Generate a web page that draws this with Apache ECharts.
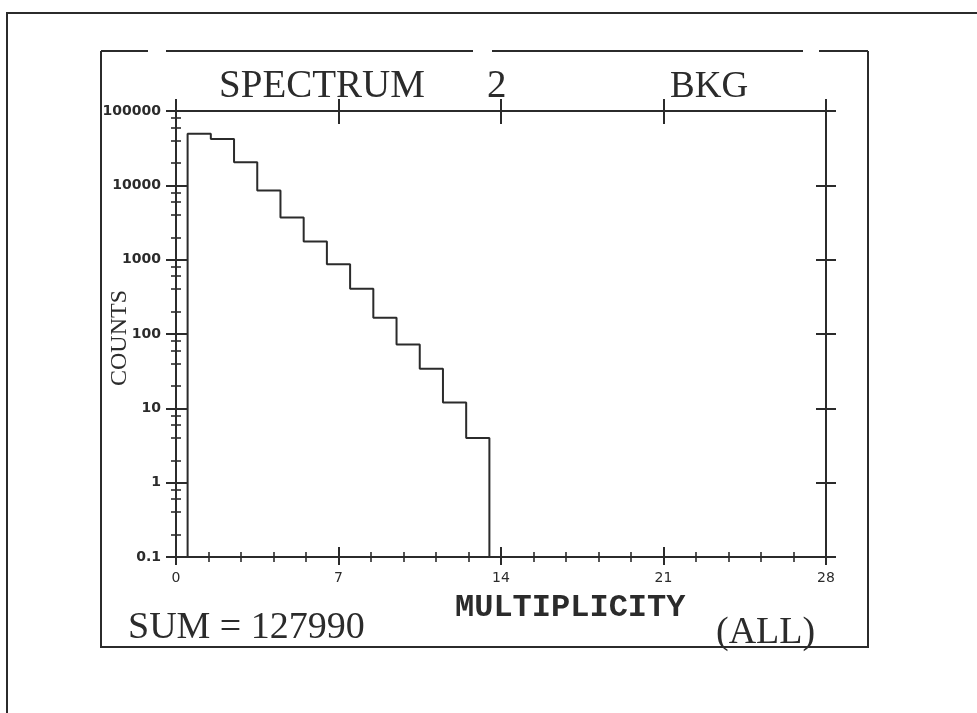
<!DOCTYPE html>
<html>
<head>
<meta charset="utf-8">
<script src="https://cdn.jsdelivr.net/npm/echarts@6/dist/echarts.min.js"></script>
<style>
  html, body { margin: 0; padding: 0; background: #ffffff; }
  #chart { width: 977px; height: 713px; }
</style>
</head>
<body>
<div id="chart"></div>
<script>
// Multiplicity spectrum: counts per multiplicity bin (bin width 1)
const multiplicity = [1, 2, 3, 4, 5, 6, 7, 8, 9, 10, 11, 12, 13];
const counts = [49500, 42000, 20500, 8500, 3700, 1750, 870, 405, 166, 72, 34, 12, 4];

const xTicks = [0, 7, 14, 21, 28];
const yTickLabels = ['0.1', '1', '10', '100', '1000', '10000', '100000'];
const yMinorTicks = [0.2, 0.4, 0.6, 0.8, 2, 4, 6, 8, 20, 40, 60, 80, 200, 400, 600, 800,
  2000, 4000, 6000, 8000, 20000, 40000, 60000, 80000];

const title = ['SPECTRUM', '2', 'BKG'];
const sumText = 'SUM = 127990';

const INK = '#2b2b2b';
const yMin = Number(yTickLabels[0]);
const yMax = Number(yTickLabels[yTickLabels.length - 1]);

// Histogram outline: edges half a bin either side of each multiplicity
const outline = [[multiplicity[0] - 0.5, yMin]];
multiplicity.forEach((m, i) => {
  outline.push([m - 0.5, counts[i]]);
  outline.push([m + 0.5, counts[i]]);
});
outline.push([multiplicity[multiplicity.length - 1] + 0.5, yMin]);

const lineStyle = { color: INK, width: 2 };

function xAxisDef(position, inside, len, withLine, withLabel, withMinor) {
  return {
    type: 'value', position: position, min: xTicks[0], max: xTicks[xTicks.length - 1],
    interval: xTicks[1] - xTicks[0],
    axisLine: { show: withLine, lineStyle: lineStyle },
    axisTick: { show: true, inside: inside, length: len, lineStyle: lineStyle },
    minorTick: { show: withMinor, splitNumber: 5, length: 5, lineStyle: { color: INK, width: 1.6 } },
    axisLabel: {
      show: withLabel, margin: 14, color: INK,
      fontFamily: 'DejaVu Sans', fontSize: 14
    },
    splitLine: { show: false }
  };
}

function yAxisDef(position, inside, len, withLine, withLabel, custom) {
  const ax = {
    type: 'log', logBase: 10, position: position, min: yMin, max: yMax,
    axisLine: { show: withLine, lineStyle: lineStyle },
    axisTick: { show: true, inside: inside, length: len, lineStyle: lineStyle },
    axisLabel: {
      show: withLabel, margin: 15, color: INK,
      fontFamily: 'DejaVu Sans', fontWeight: 'bold', fontSize: 14,
      formatter: v => {
        const s = String(Number(Number(v).toPrecision(6)));
        return yTickLabels.indexOf(s) >= 0 ? s : '';
      }
    },
    splitLine: { show: false },
    minorTick: { show: false }
  };
  if (custom) {
    ax.axisTick.customValues = custom;
    ax.axisTick.lineStyle = { color: INK, width: 1.6 };
  }
  return ax;
}

const chart = echarts.init(document.getElementById('chart'), null, { renderer: 'canvas' });

const option = {
  backgroundColor: '#ffffff',
  animation: false,
  grid: { left: 176, right: 151, top: 111, bottom: 156, containLabel: false },
  xAxis: [
    xAxisDef('bottom', false, 8, true, true, true),
    xAxisDef('bottom', true, 10, false, false, true),
    xAxisDef('top', false, 12, true, false, false),
    xAxisDef('top', true, 13, false, false, false)
  ],
  yAxis: [
    yAxisDef('left', false, 10, true, true, null),
    yAxisDef('left', true, 11, false, false, null),
    yAxisDef('left', false, 5, false, false, yMinorTicks),
    yAxisDef('left', true, 5, false, false, yMinorTicks),
    yAxisDef('right', false, 10, true, false, null),
    yAxisDef('right', true, 10, false, false, null)
  ],
  series: [{
    type: 'line',
    xAxisIndex: 0,
    yAxisIndex: 0,
    data: outline,
    symbol: 'none',
    lineStyle: { color: INK, width: 2 },
    z: 5
  }],
  graphic: [
    // outer page frame
    { type: 'polyline', shape: { points: [[7, 713], [7, 13], [977, 13]] },
      style: { stroke: INK, lineWidth: 2, fill: null } },
    // inner plot frame
    { type: 'polyline', shape: { points: [[101, 51], [101, 647], [868, 647], [868, 51]] },
      style: { stroke: INK, lineWidth: 2, fill: null } },
    { type: 'line', shape: { x1: 101, y1: 51, x2: 148, y2: 51 }, style: { stroke: INK, lineWidth: 2 } },
    { type: 'line', shape: { x1: 166, y1: 51, x2: 473, y2: 51 }, style: { stroke: INK, lineWidth: 2 } },
    { type: 'line', shape: { x1: 492, y1: 51, x2: 803, y2: 51 }, style: { stroke: INK, lineWidth: 2 } },
    { type: 'line', shape: { x1: 819, y1: 51, x2: 868, y2: 51 }, style: { stroke: INK, lineWidth: 2 } },
    // title
    { type: 'text', x: 219, y: 106, style: { text: title[0], fill: INK,
      font: '39px "Liberation Serif"', verticalAlign: 'bottom' } },
    { type: 'text', x: 487, y: 106, style: { text: title[1], fill: INK,
      font: '39px "Liberation Serif"', verticalAlign: 'bottom' } },
    { type: 'text', x: 670, y: 106, style: { text: title[2], fill: INK,
      font: '37px "Liberation Serif"', verticalAlign: 'bottom' } },
    // axis names
    { type: 'text', x: 120, y: 338, rotation: Math.PI / 2, style: { text: 'COUNTS', fill: INK,
      font: '24px "Liberation Serif"', align: 'center', verticalAlign: 'middle' } },
    { type: 'text', x: 455, y: 624, style: { text: 'MULTIPLICITY', fill: INK,
      font: 'bold 32px "Liberation Mono"', verticalAlign: 'bottom' } },
    { type: 'text', x: 716, y: 652, style: { text: '(ALL)', fill: INK,
      font: '38px "Liberation Serif"', verticalAlign: 'bottom' } },
    { type: 'text', x: 128, y: 647, style: { text: sumText, fill: INK,
      font: '38px "Liberation Serif"', verticalAlign: 'bottom' } }
  ]
};

chart.setOption(option);
</script>
</body>
</html>
